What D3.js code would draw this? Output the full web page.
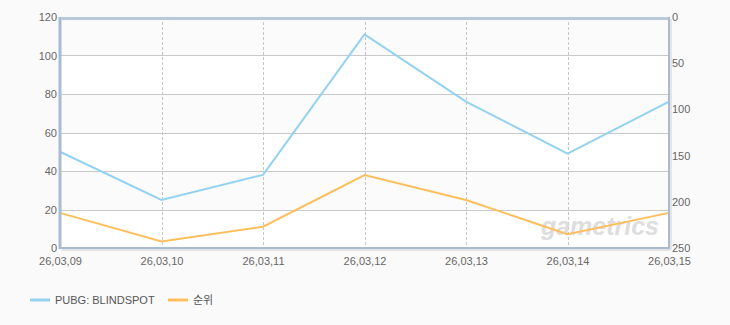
<!DOCTYPE html>
<html>
<head>
<meta charset="utf-8">
<script src="https://cdn.jsdelivr.net/npm/d3@7"></script>
<style>
  body { margin: 0; background: #fafafa; }
  text { font-family: "Liberation Sans", "Noto Sans CJK KR", sans-serif; }
</style>
</head>
<body>
<svg id="chart" width="730" height="325"></svg>
<script>
const dates = ["26,03,09", "26,03,10", "26,03,11", "26,03,12", "26,03,13", "26,03,14", "26,03,15"];
const players = [50, 25, 38, 111, 76, 49, 76];
const ranks = [212, 243, 227, 171, 198, 235, 212];
const leftTicks = [0, 20, 40, 60, 80, 100, 120];
const rightTicks = [0, 50, 100, 150, 200, 250];
const seriesNames = ["PUBG: BLINDSPOT", "순위"];
const colors = ["#93d2f2", "#fdbf5e"];

const margin = {top: 17, right: 61, bottom: 77, left: 60};
const width = 730 - margin.left - margin.right;
const height = 325 - margin.top - margin.bottom;

const svg = d3.select("#chart");
const g = svg.append("g").attr("transform", "translate(" + margin.left + "," + margin.top + ")");

const x = d3.scalePoint().domain(dates).range([0, width]);
const y = d3.scaleLinear().domain([0, 120]).range([height, 0]);
const y2 = d3.scaleLinear().domain([0, 250]).range([0, height]);

// plot background bands
g.selectAll(".band")
  .data(leftTicks.slice(0, -1))
  .enter().append("rect")
  .attr("x", 0)
  .attr("width", width)
  .attr("y", d => y(d + 20))
  .attr("height", d => y(d) - y(d + 20))
  .attr("fill", (d, i) => i % 2 ? "#fbfbfb" : "#ffffff");

// horizontal grid
g.selectAll(".hgrid")
  .data(leftTicks.slice(1, -1))
  .enter().append("line")
  .attr("x1", 0).attr("x2", width)
  .attr("y1", d => Math.round(y(d)) + 0.5).attr("y2", d => Math.round(y(d)) + 0.5)
  .attr("stroke", "#c9c9c9");

// vertical dashed grid
g.selectAll(".vgrid")
  .data(dates.slice(1, -1))
  .enter().append("line")
  .attr("x1", d => Math.round(x(d)) + 0.5).attr("x2", d => Math.round(x(d)) + 0.5)
  .attr("y1", 0).attr("y2", height)
  .attr("stroke", "#c6c6c6")
  .attr("stroke-dasharray", "3,2");

// watermark
g.append("text")
  .attr("x", width - 10)
  .attr("y", height - 13)
  .attr("text-anchor", "end")
  .attr("font-size", 25)
  .attr("font-weight", "bold")
  .attr("font-style", "italic")
  .attr("fill", "#d6d6d6")
  .attr("opacity", 0.8)
  .text("gametrics");

// lines
const line1 = d3.line().x((d, i) => x(dates[i])).y(d => y(d));
const line2 = d3.line().x((d, i) => x(dates[i])).y(d => y2(d));

g.append("path").datum(players)
  .attr("d", line1).attr("fill", "none")
  .attr("stroke", colors[0]).attr("stroke-width", 2);
g.append("path").datum(ranks)
  .attr("d", line2).attr("fill", "none")
  .attr("stroke", colors[1]).attr("stroke-width", 2);

// frame
const frame = "#a8bbd0";
g.append("line").attr("x1", 1.5).attr("x2", width + 1).attr("y1", 1.5).attr("y2", 1.5)
  .attr("stroke", "#b8c9da").attr("stroke-width", 3);
g.append("line").attr("x1", 0).attr("x2", 0).attr("y1", 0).attr("y2", height + 1)
  .attr("stroke", frame).attr("stroke-width", 3);
g.append("line").attr("x1", width).attr("x2", width).attr("y1", 0).attr("y2", height + 1)
  .attr("stroke", frame).attr("stroke-width", 2);
g.append("line").attr("x1", width + 2).attr("x2", width + 2).attr("y1", 2).attr("y2", height + 2)
  .attr("stroke", "#e6e6e6").attr("stroke-width", 2);
g.append("line").attr("x1", 0).attr("x2", width + 1).attr("y1", height).attr("y2", height)
  .attr("stroke", frame).attr("stroke-width", 2);
g.append("line").attr("x1", 2).attr("x2", width + 2).attr("y1", height + 2).attr("y2", height + 2)
  .attr("stroke", "#e4e4e4").attr("stroke-width", 2);

// axes
const styleAxis = sel => {
  sel.select(".domain").remove();
  sel.selectAll(".tick line").remove();
  sel.selectAll("text").attr("fill", "#666").attr("font-size", 11)
    .attr("font-family", "'Liberation Sans', sans-serif");
};

g.append("g")
  .call(d3.axisLeft(y).tickValues(leftTicks).tickSize(0).tickPadding(3))
  .call(styleAxis);

g.append("g")
  .attr("transform", "translate(" + width + ",0)")
  .call(d3.axisRight(y2).tickValues(rightTicks).tickSize(0).tickPadding(3))
  .call(styleAxis);

g.append("g")
  .attr("transform", "translate(0," + height + ")")
  .call(d3.axisBottom(x).tickSize(0).tickPadding(9))
  .call(styleAxis);

// legend
const legend = svg.append("g").attr("transform", "translate(30,300)");
const legendX = [0, 138];
seriesNames.forEach((name, i) => {
  const item = legend.append("g").attr("transform", "translate(" + legendX[i] + ",0)");
  item.append("rect").attr("x", 0).attr("y", -1.5).attr("width", 20).attr("height", 3)
    .attr("fill", colors[i]);
  item.append("text").attr("x", 25).attr("y", 4)
    .attr("font-size", 11).attr("fill", "#555")
    .attr("font-family", "'Liberation Sans', 'Noto Sans CJK KR', sans-serif")
    .text(name);
});
</script>
</body>
</html>
